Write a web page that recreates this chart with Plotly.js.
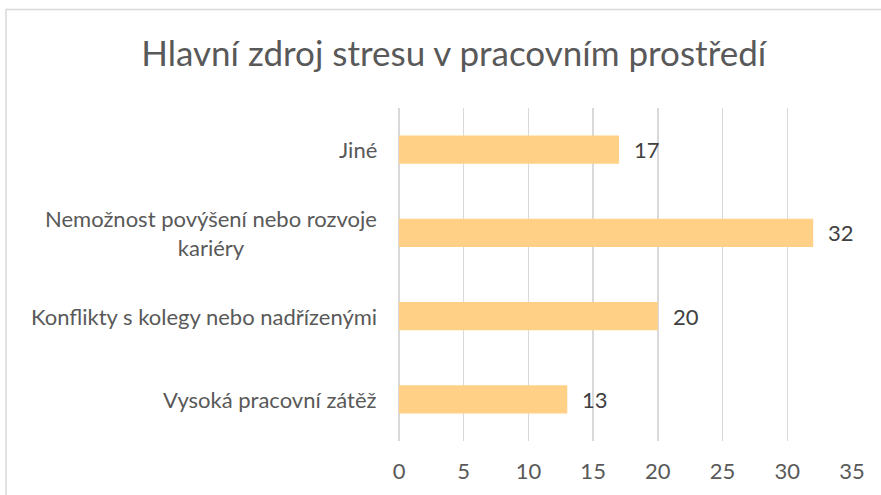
<!DOCTYPE html>
<html>
<head>
<meta charset="utf-8">
<script src="https://cdn.plot.ly/plotly-3.0.1.min.js"></script>
<style>html,body{margin:0;padding:0;background:#fff;}#chart{width:881px;height:495px;}</style>
</head>
<body>
<div id="chart"></div>
<script>
const categories = ["Vysoká pracovní zátěž", "Konflikty s kolegy nebo nadřízenými", "Nemožnost povýšení nebo rozvoje<br>kariéry", "Jiné"];
const values = [13, 20, 32, 17];
const tickVals = [0, 5, 10, 15, 20, 25, 30, 35];
const titleText = "Hlavní zdroj stresu v pracovním prostředí";

const FONT = "Lato, 'Open Sans', sans-serif";

const catAnn = categories.map(c => ({
  x: 0, y: c, xref: 'x', yref: 'y', text: c, showarrow: false,
  xanchor: 'right', yanchor: 'middle', align: 'center', xshift: -20,
  font: {family: FONT, size: 22, color: '#595959'}
}));
const valAnn = categories.map((c, i) => ({
  x: values[i], y: c, xref: 'x', yref: 'y', text: String(values[i]), showarrow: false,
  xanchor: 'left', yanchor: 'middle', xshift: 13,
  font: {family: FONT, size: 22, color: '#404040'}
}));

const trace = {
  type: 'bar', orientation: 'h', x: values, y: categories,
  marker: {color: '#FFD086'}, hoverinfo: 'none'
};

const layout = {
  width: 881, height: 495,
  margin: {l: 399, r: 29, t: 108, b: 54},
  paper_bgcolor: '#fff', plot_bgcolor: '#fff',
  bargap: 0.66,
  showlegend: false,
  title: {text: titleText, x: 0.515, xref: 'container', y: 0.891, yref: 'container',
          xanchor: 'center', yanchor: 'middle',
          font: {family: FONT, size: 35, color: '#595959'}},
  xaxis: {range: [0, 35], tickvals: tickVals, ticktext: tickVals.map(String),
          showgrid: true, gridcolor: '#d9d9d9', gridwidth: 1.5,
          zeroline: true, zerolinecolor: '#d9d9d9', zerolinewidth: 1.5,
          showline: false, ticks: '', ticklabelstandoff: 15, fixedrange: true,
          tickfont: {family: FONT, size: 22, color: '#595959'}},
  yaxis: {type: 'category', categoryorder: 'array', categoryarray: categories,
          showticklabels: false, showgrid: false, zeroline: false, showline: false, ticks: ''},
  annotations: catAnn.concat(valAnn),
  shapes: [{type: 'rect', xref: 'paper', yref: 'paper',
            x0: (6 - 399) / 453, x1: (900 - 399) / 453,
            y0: (441 - 520) / 333, y1: (441 - 9.5) / 333,
            line: {color: '#d9d9d9', width: 1.5}, fillcolor: 'rgba(0,0,0,0)', layer: 'below'}]
};

Plotly.newPlot('chart', [trace], layout, {staticPlot: true, displayModeBar: false});
</script>
</body>
</html>
